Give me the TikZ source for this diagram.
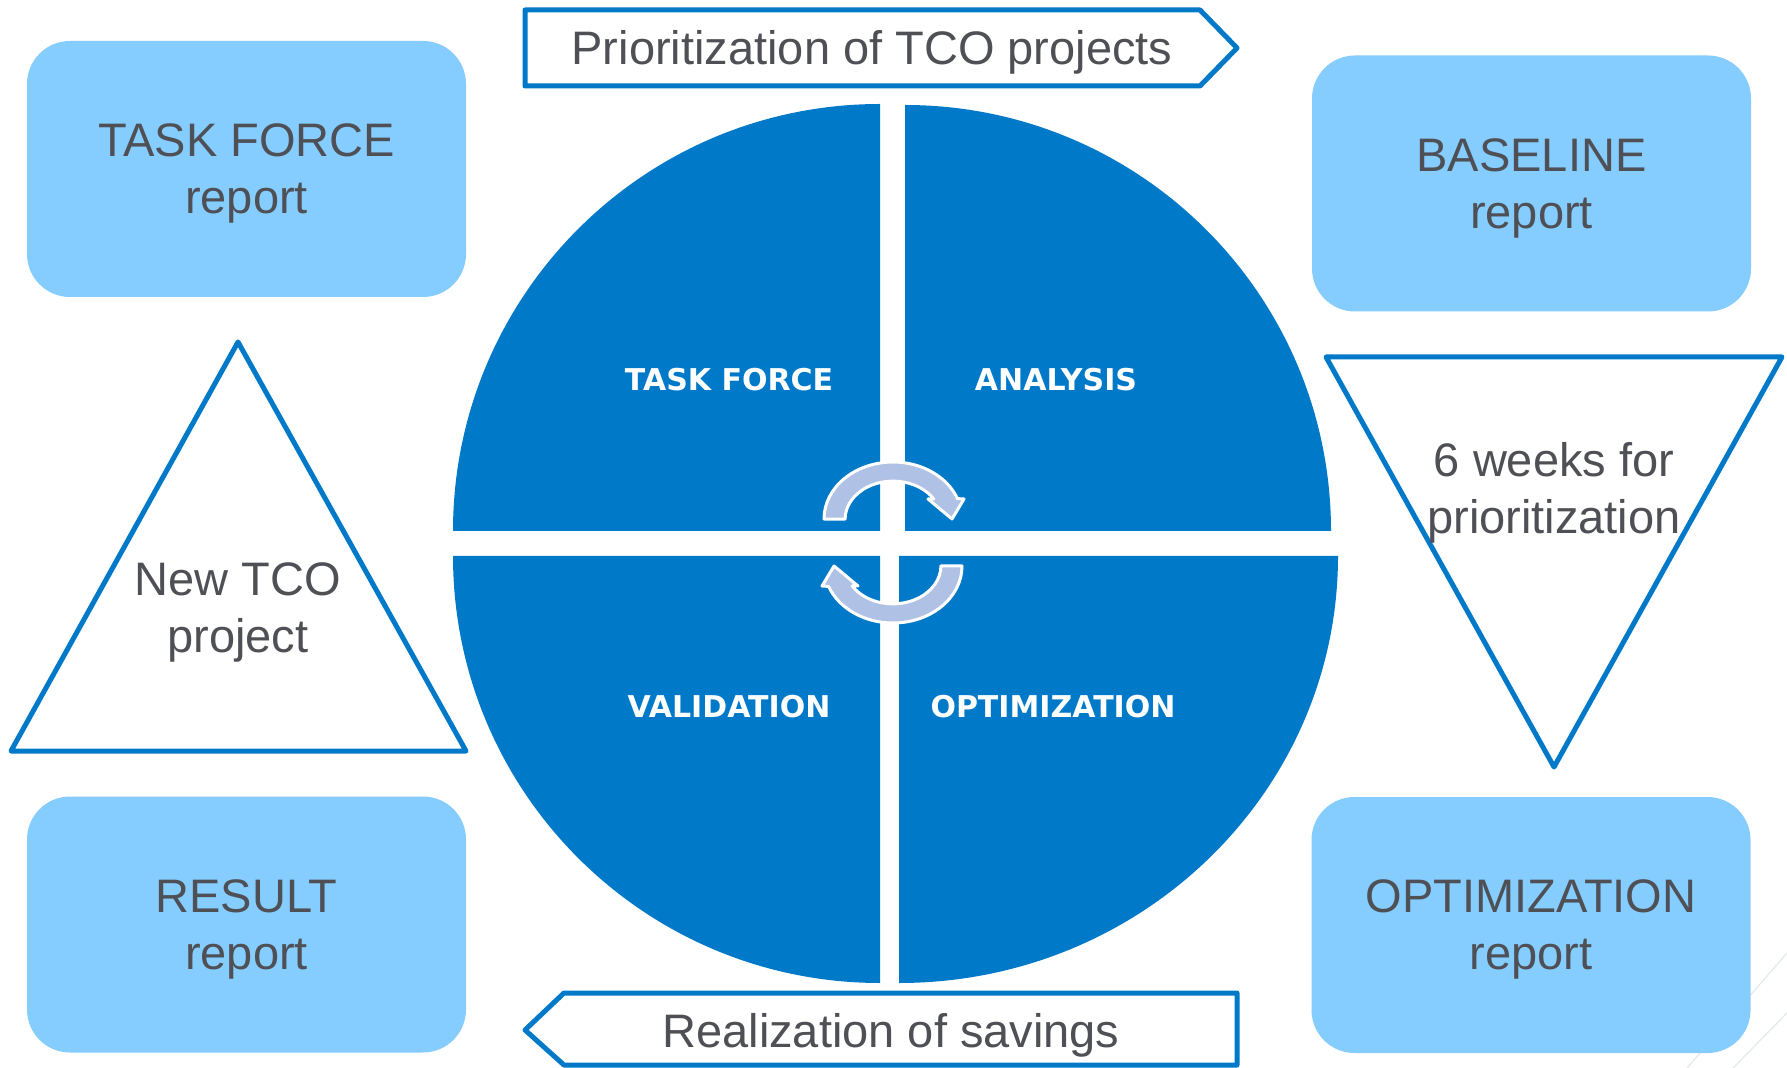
\documentclass[tikz,border=0pt]{standalone}
\usepackage{fontspec}
\setmainfont{Liberation Sans}
\newfontfamily\quadfont{DejaVu Sans}
\usepackage{tikz}
\definecolor{C0}{HTML}{0079C8}
\definecolor{C1}{HTML}{85CCFF}
\definecolor{C2}{HTML}{AFC1E4}
\definecolor{C3}{HTML}{4F5055}
\definecolor{C4}{HTML}{E4E9EE}

\begin{document}
\begin{tikzpicture}[x=0.5pt,y=-0.5pt,
  report/.style={fill=C1, rounded corners=21.5pt, minimum width=219.5pt, minimum height=128pt, inner sep=0pt, text depth=0pt, align=center, text=C3, font=\fontsize{23.5}{28.5}\selectfont},
  caption/.style={text=C3, align=center, font=\fontsize{23.5}{28.5}\selectfont},
  phase/.style={text=white, anchor=base, font=\quadfont\bfseries\fontsize{15}{18}\selectfont},
  outline/.style={draw=C0, line width=2.5pt, line join=round},
  turn/.style={fill=C2, draw=white, line width=1.5pt, line join=round},
  cyclearrow/.pic={
    \filldraw[turn] (-69,0) arc[start angle=180, end angle=339, x radius=69, y radius=57]
      -- (71,-20) -- (59,0) -- (35,-20) -- (40.8,-20)
      arc[start angle=328, end angle=180, x radius=48, y radius=38] -- cycle;
  }]
\fill[white] (0,0) rectangle (1787,1068);
\useasboundingbox (0,0) rectangle (1787,1068);
\draw[C4, line width=0.6pt] (1687,1068) -- (1787,953);
\draw[C4, line width=0.6pt] (1733,1068) -- (1787,1013);

% four quarters of the cycle
\fill[C0] (880,531) -- (453,531) arc[start angle=180, end angle=270, radius=427] -- cycle;
\fill[C0] (905,531) -- (905,105) arc[start angle=270, end angle=360, radius=426] -- cycle;
\fill[C0] (880,556) -- (880,983) arc[start angle=90, end angle=180, radius=427] -- cycle;
\fill[C0] (899,556) -- (1338,556) arc[start angle=0, end angle=90, x radius=439, y radius=427] -- cycle;
\node[phase] (force) at (729,391) {TASK FORCE};
\node[phase] (analysis) at (1056,391) {ANALYSIS};
\node[phase] (valid) at (729,717) {VALIDATION};
\node[phase] (optim) at (1053,717) {OPTIMIZATION};
\pic at (893,519) {cyclearrow};
\pic[rotate=180] at (893,566) {cyclearrow};

% banners
\draw[outline, fill=white] (525,10) -- (1200,10) -- (1237,48) -- (1200,86) -- (525,86) -- cycle;
\node[caption, anchor=base] (prio) at (872,65) {Prioritization of TCO projects};
\draw[outline, fill=white] (564,993) -- (1237,993) -- (1237,1065) -- (564,1065) -- (525,1030) -- cycle;
\node[caption, anchor=base] (saving) at (891,1047) {Realization of savings};

% reports
\node[report] (taskrep) at (246.5,169) {TASK FORCE\\report};
\node[report] (baserep) at (1531.5,183.5) {BASELINE\\report};
\node[report] (resrep) at (246.5,924.5) {RESULT\\report};
\node[report] (optrep) at (1531,925) {OPTIMIZATION\\report};

% triangles
\draw[outline] (238,342) -- (466,751) -- (11,751) -- cycle;
\node[caption] (newtco) at (238,612) {New TCO\\project};
\draw[outline] (1326,357) -- (1782,357) -- (1554,767) -- cycle;
\node[caption] (weeks) at (1554,493) {6 weeks for\\prioritization};
\end{tikzpicture}
\end{document}
